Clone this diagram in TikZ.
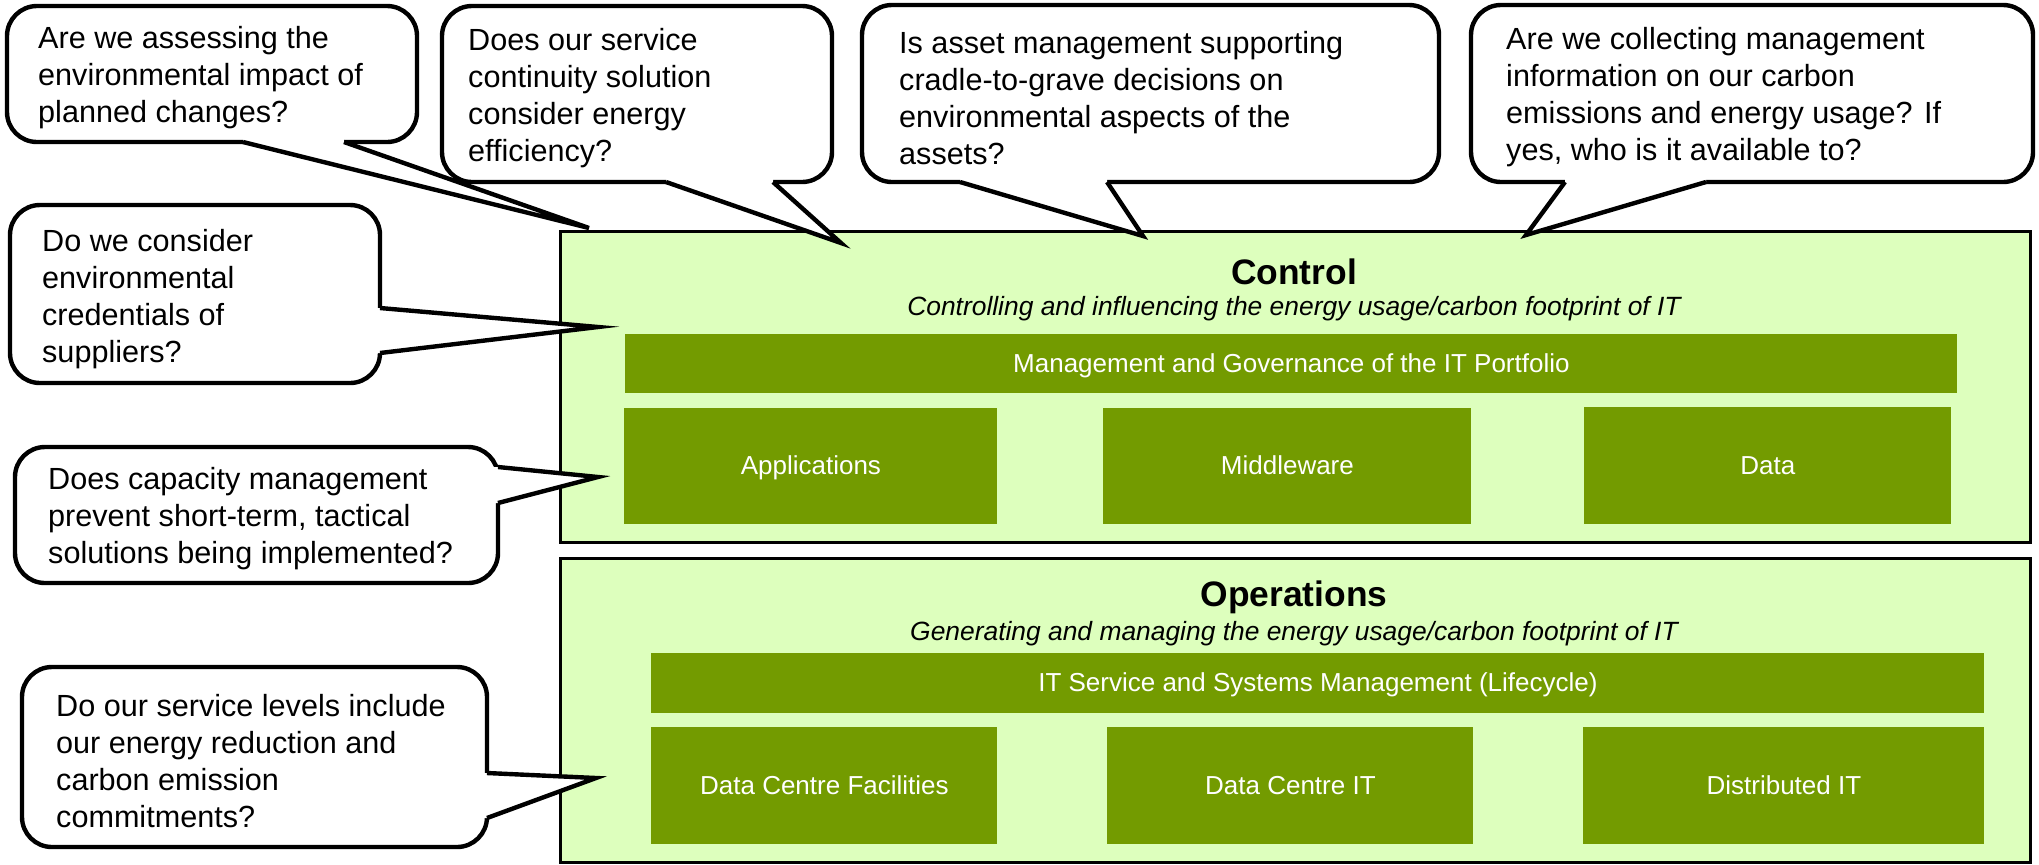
\documentclass[tikz,border=0pt]{standalone}
\usepackage{fontspec}
\setmainfont{Liberation Sans}
\usetikzlibrary{calc}
\definecolor{lightgr}{RGB}{221,255,189}
\definecolor{darkgr}{RGB}{115,155,0}
\tikzset{
  bubble/.style={draw=black, line width=2.2pt, fill=white, rounded corners=15pt, inner sep=0pt},
  qtext/.style={anchor=west, align=left, inner sep=0pt, font=\fontsize{15.3}{18.5}\selectfont},
  wedge/.style={draw=black, line width=2.2pt, line join=miter},
  panel/.style={draw=black, line width=1.6pt, fill=lightgr, anchor=north west, inner sep=0pt},
  block/.style={fill=darkgr, text=white, anchor=north west, inner sep=0pt, text height=0.84em, text depth=0pt, font=\fontsize{13}{15.6}\selectfont},
  ttl/.style={inner sep=0pt, font=\bfseries\fontsize{17.7}{21}\selectfont},
  sub/.style={inner sep=0pt, font=\itshape\fontsize{13.2}{16}\selectfont},
}
\begin{document}
\begin{tikzpicture}[x=0.5pt,y=-0.5pt]
\useasboundingbox (0,0) rectangle (2039,864);
% panels
\node[panel, minimum width=735pt, minimum height=155.5pt] (control) at (559,230) {};
\node[panel, minimum width=735pt, minimum height=152pt] (ops) at (559,557) {};
\node[ttl] (ctitle) at (1294,272) {Control};
\node[sub] (csub) at (1294,309) {Controlling and influencing the energy usage/carbon footprint of IT};
\node[block, minimum width=666pt, minimum height=29.5pt] (mgmt) at (625,334) {Management and Governance of the IT Portfolio};
\node[block, minimum width=186.5pt, minimum height=58pt] (apps) at (624,408) {Applications};
\node[block, minimum width=184pt, minimum height=58pt] (mid) at (1103,408) {Middleware};
\node[block, minimum width=183.5pt, minimum height=58.5pt] (data) at (1584,407) {Data};
\node[ttl] (otitle) at (1294,597) {Operations};
\node[sub] (osub) at (1294,634) {Generating and managing the energy usage/carbon footprint of IT};
\node[block, minimum width=666.5pt, minimum height=30pt] (itsm) at (651,653) {IT Service and Systems Management (Lifecycle)};
\node[block, minimum width=173pt, minimum height=58.5pt] (dcf) at (651,727) {Data Centre Facilities};
\node[block, minimum width=183pt, minimum height=58.5pt] (dcit) at (1107,727) {Data Centre IT};
\node[block, minimum width=200.5pt, minimum height=58.5pt] (dit) at (1583,727) {Distributed IT};
% tips
\coordinate (ta) at (589,228);
\coordinate (tb) at (841,243);
\coordinate (tc) at (1143,236);
\coordinate (td) at (1526,235);
\coordinate (te) at (598,327);
\coordinate (tf) at (598,477);
\coordinate (tg) at (596,778);
% callout A
\node[bubble, minimum width=205pt, minimum height=68pt] (qa) at (212,74) {};
\fill[white] (243,142) -- (ta) -- (344,142) -- (344,134) -- (243,134) -- cycle;
\draw[wedge] (243,142) -- (ta) -- (344,142);
\node[qtext] (qat) at ($(qa.west)+(33,4)$) {Are we assessing the\\environmental impact of\\planned changes?};
% callout B
\node[bubble, minimum width=195pt, minimum height=88pt] (qb) at (637,94) {};
\fill[white] (666,182) -- (tb) -- (773,182) -- (773,174) -- (666,174) -- cycle;
\draw[wedge] (666,182) -- (tb) -- (773,182);
\node[qtext] (qbt) at ($(qb.west)+(28,4)$) {Does our service\\continuity solution\\consider energy\\efficiency?};
% callout C
\node[bubble, minimum width=288.5pt, minimum height=88.5pt] (qc) at (1150.5,93.5) {};
\fill[white] (960,182) -- (tc) -- (1107,182) -- (1107,174) -- (960,174) -- cycle;
\draw[wedge] (960,182) -- (tc) -- (1107,182);
\node[qtext] (qct) at ($(qc.west)+(39,5)$) {Is asset management supporting\\cradle-to-grave decisions on\\environmental aspects of the\\assets?};
% callout D
\node[bubble, minimum width=281pt, minimum height=88.5pt] (qd) at (1752,93.5) {};
\fill[white] (1565,182) -- (td) -- (1706,182) -- (1706,174) -- (1565,174) -- cycle;
\draw[wedge] (1565,182) -- (td) -- (1706,182);
\node[qtext] (qdt) at ($(qd.west)+(37,4)$) {Are we collecting management\\information on our carbon\\emissions and energy usage? If\\yes, who is it available to?};
% callout E
\node[bubble, minimum width=185pt, minimum height=89pt] (qe) at (195,294) {};
\fill[white] (380,308) -- (te) -- (380,353) -- (372,353) -- (372,308) -- cycle;
\draw[wedge] (380,308) -- (te) -- (380,353);
\node[qtext] (qet) at ($(qe.west)+(34,5)$) {Do we consider\\environmental\\credentials of\\suppliers?};
% callout F
\node[bubble, minimum width=241.5pt, minimum height=68pt] (qf) at (256.5,515) {};
\fill[white] (498,467) -- (tf) -- (498,503) -- (490,503) -- (490,467) -- cycle;
\draw[wedge] (498,467) -- (tf) -- (498,503);
\node[qtext] (qft) at ($(qf.west)+(35,4)$) {Does capacity management\\prevent short-term, tactical\\solutions being implemented?};
% callout G
\node[bubble, minimum width=232.5pt, minimum height=90pt] (qg) at (254.5,757) {};
\fill[white] (487,773) -- (tg) -- (487,818) -- (479,818) -- (479,773) -- cycle;
\draw[wedge] (487,773) -- (tg) -- (487,818);
\node[qtext] (qgt) at ($(qg.west)+(36,4)$) {Do our service levels include\\our energy reduction and\\carbon emission\\commitments?};
\end{tikzpicture}
\end{document}
